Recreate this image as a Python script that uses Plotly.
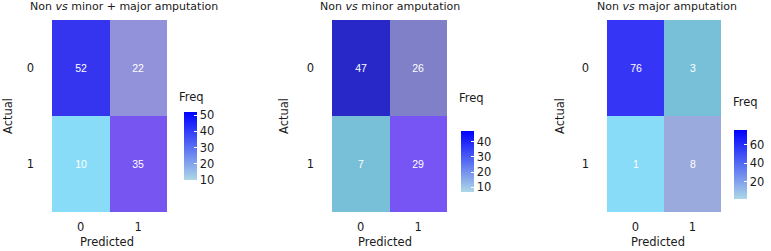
import plotly.graph_objects as go

W, H = 771, 251

titles = ["Non <i>vs</i> minor + major amputation", "Non <i>vs</i> minor amputation", "Non <i>vs</i> major amputation"]
pred_labels = ["0", "1"]
actual_labels = ["0", "1"]
# rows: actual 0, actual 1 ; cols: predicted 0, predicted 1
freq_all = [[52, 22], [10, 35]]
freq_minor = [[47, 26], [7, 29]]
freq_major = [[76, 3], [1, 8]]
cell_colors_all = [["#3535f0", "#9292da"], ["#88dcf8", "#7755f0"]]
cell_colors_minor = [["#2828c8", "#8080c8"], ["#77c0d8", "#7755f5"]]
cell_colors_major = [["#3535f5", "#77c0d8"], ["#88dcf8", "#9aaadd"]]
cbar_ticks = [[10, 20, 30, 40, 50], [10, 20, 30, 40], [20, 40, 60]]

panels = [
    dict(z=freq_all, colors=cell_colors_all, hx=(52, 167), cb=(184, 112, 180),
         title_x=124, actual_x=8, pred_x=107, freq=(177, 97)),
    dict(z=freq_minor, colors=cell_colors_minor, hx=(332, 447), cb=(461, 131, 192),
         title_x=390, actual_x=284, pred_x=385, freq=(457, 98)),
    dict(z=freq_major, colors=cell_colors_major, hx=(607, 721), cb=(734, 130, 199),
         title_x=667, actual_x=560, pred_x=658, freq=(731, 102)),
]
HY = (20, 212)

FONT = "DejaVu Sans"
TXT = "#1a1a1a"
FS = 11.5
fig = go.Figure()
annotations = []
layout = {}

def py(p):
    return 1 - p / H

for i, (p, ticks) in enumerate(zip(panels, cbar_ticks)):
    n = i + 1
    xa = "x" if n == 1 else f"x{n}"
    ya = "y" if n == 1 else f"y{n}"
    z = p["z"]
    flat = sorted({(v, c) for row_v, row_c in zip(z, p["colors"]) for v, c in zip(row_v, row_c)})
    vmin, vmax = flat[0][0], flat[-1][0]
    cs = [[(v - vmin) / (vmax - vmin), c] for v, c in flat]
    fig.add_trace(go.Heatmap(
        z=z, x=[0, 1], y=[0, 1], colorscale=cs, zmin=vmin, zmax=vmax, showscale=False,
        texttemplate="%{z}", textfont=dict(color="white", size=10.5, family="Liberation Sans"),
        xaxis=xa, yaxis=ya, hoverinfo="skip",
    ))
    allv = [v for row in z for v in row]
    cbx, cbt, cbb = p["cb"]
    fig.add_trace(go.Scatter(
        x=[0, 1, 0, 1], y=[0, 0, 1, 1], mode="markers", xaxis=xa, yaxis=ya,
        marker=dict(color=allv, colorscale=[[0, "#add8e6"], [1, "#0000ff"]], cmin=vmin, cmax=vmax,
                    opacity=0, size=1, showscale=True,
                    colorbar=dict(x=cbx / W, xanchor="left", y=py(cbb), yanchor="bottom",
                                  len=(cbb - cbt) / H, lenmode="fraction", thickness=13,
                                  xpad=0, ypad=0, outlinewidth=0, tickvals=ticks,
                                  ticks="inside", ticklen=3, tickcolor="white",
                                  tickfont=dict(size=FS, color=TXT, family=FONT))),
        hoverinfo="skip", showlegend=False,
    ))
    layout[f"xaxis{'' if n == 1 else n}"] = dict(
        domain=[p["hx"][0] / W, p["hx"][1] / W], range=[-0.5, 1.5], anchor=ya,
        tickvals=[0, 1], ticktext=pred_labels, showgrid=False, zeroline=False,
        tickfont=dict(size=FS, color=TXT, family=FONT), ticklabelstandoff=6)
    layout[f"yaxis{'' if n == 1 else n}"] = dict(
        domain=[py(HY[1]), py(HY[0])], range=[1.5, -0.5], anchor=xa,
        tickvals=[0, 1], ticktext=actual_labels, showgrid=False, zeroline=False,
        tickfont=dict(size=FS, color=TXT, family=FONT), ticklabelstandoff=17)
    common = dict(xref="paper", yref="paper", showarrow=False, xanchor="center", yanchor="middle")
    annotations += [
        dict(text=titles[i], x=p["title_x"] / W, y=py(7),
             font=dict(size=11, color=TXT, family=FONT), **common),
        dict(text="Actual", x=p["actual_x"] / W, y=py(116), textangle=-90,
             font=dict(size=FS, color=TXT, family=FONT), **common),
        dict(text="Predicted", x=p["pred_x"] / W, y=py(242),
             font=dict(size=FS, color=TXT, family=FONT), **common),
        dict(text="Freq", x=p["freq"][0] / W, y=py(p["freq"][1]),
             font=dict(size=FS, color=TXT, family=FONT),
             **{**common, "xanchor": "left"}),
    ]

fig.update_layout(width=W, height=H, margin=dict(l=0, r=0, t=0, b=0, autoexpand=False),
                  paper_bgcolor="white", plot_bgcolor="white", showlegend=False,
                  annotations=annotations, **layout)
fig.write_html("out.html", config={"displayModeBar": False},
               post_script="document.body.style.margin='0px';")
